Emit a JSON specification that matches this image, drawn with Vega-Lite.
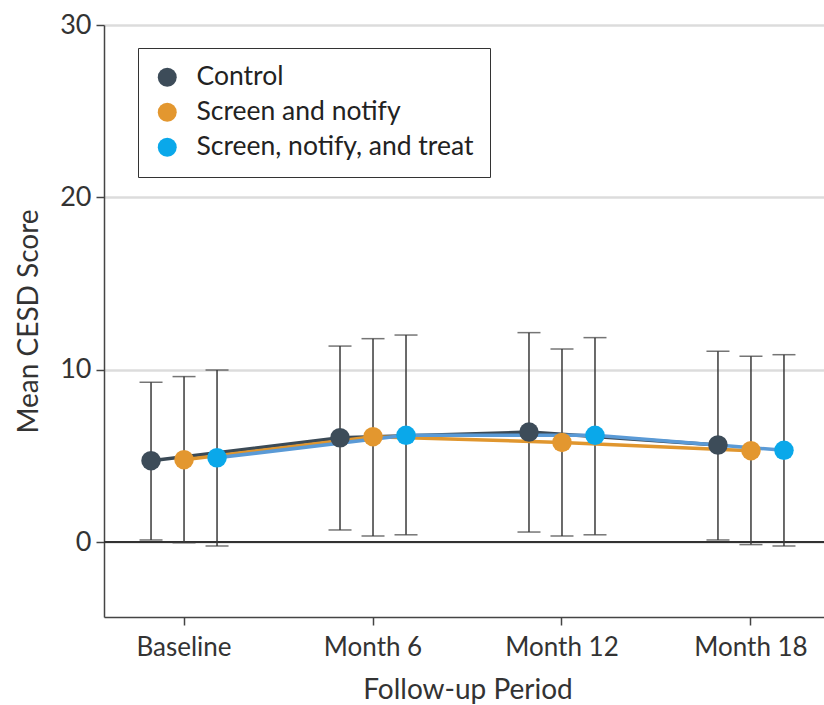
{
  "$schema": "https://vega.github.io/schema/vega-lite/v6.json",
  "width": 727,
  "height": 592,
  "autosize": {"type": "none"},
  "padding": {"left": 104, "top": 25, "right": 0, "bottom": 88},
  "background": "white",
  "config": {
    "font": "Lato",
    "view": {"stroke": null},
    "axis": {
      "labelFont": "Lato", "titleFont": "Lato",
      "labelColor": "#333", "titleColor": "#333",
      "domainColor": "#444", "tickColor": "#444",
      "domainWidth": 1.5, "tickWidth": 1.5, "tickSize": 8,
      "titleFontWeight": "normal"
    }
  },
  "data": {
    "values": [
      {"period": "Baseline", "group": "Control", "mean": 4.72, "low": 0.12, "high": 9.27},
      {"period": "Baseline", "group": "Screen and notify", "mean": 4.78, "low": -0.04, "high": 9.6},
      {"period": "Baseline", "group": "Screen, notify, and treat", "mean": 4.89, "low": -0.23, "high": 9.98},
      {"period": "Month 6", "group": "Control", "mean": 6.05, "low": 0.7, "high": 11.37},
      {"period": "Month 6", "group": "Screen and notify", "mean": 6.11, "low": 0.35, "high": 11.8},
      {"period": "Month 6", "group": "Screen, notify, and treat", "mean": 6.19, "low": 0.42, "high": 12.01},
      {"period": "Month 12", "group": "Control", "mean": 6.38, "low": 0.58, "high": 12.15},
      {"period": "Month 12", "group": "Screen and notify", "mean": 5.78, "low": 0.35, "high": 11.2},
      {"period": "Month 12", "group": "Screen, notify, and treat", "mean": 6.19, "low": 0.42, "high": 11.86},
      {"period": "Month 18", "group": "Control", "mean": 5.63, "low": 0.12, "high": 11.07},
      {"period": "Month 18", "group": "Screen and notify", "mean": 5.3, "low": -0.15, "high": 10.78},
      {"period": "Month 18", "group": "Screen, notify, and treat", "mean": 5.32, "low": -0.23, "high": 10.87}
    ]
  },
  "encoding": {
    "x": {
      "field": "period", "type": "nominal",
      "sort": ["Baseline", "Month 6", "Month 12", "Month 18"],
      "scale": {"paddingInner": 0.153, "paddingOuter": 0},
      "axis": {
        "title": "Follow-up Period", "labelAngle": 0,
        "labelFontSize": 26, "titleFontSize": 28,
        "labelPadding": 9, "titlePadding": 16, "grid": false
      }
    },
    "xOffset": {
      "field": "group", "type": "nominal",
      "sort": ["Control", "Screen and notify", "Screen, notify, and treat"],
      "scale": {"paddingInner": 0, "paddingOuter": 0.925}
    }
  },
  "layer": [
    {
      "mark": {"type": "rule", "color": "#333", "strokeWidth": 1.5},
      "encoding": {"y": {"datum": 0}, "x": null, "xOffset": null}
    },
    {
      "mark": {"type": "rule", "color": "#3a3a3a", "strokeWidth": 1.5},
      "encoding": {
        "y": {
          "field": "low", "type": "quantitative",
          "scale": {"domain": [-4.35, 30], "nice": false, "zero": false},
          "axis": {
            "title": "Mean CESD Score", "values": [0, 10, 20, 30],
            "labelFontSize": 27, "titleFontSize": 28, "labelPadding": 5,
            "titlePadding": 16, "grid": true, "gridColor": "#dcdcdc", "gridWidth": 2.5
          }
        },
        "y2": {"field": "high"}
      }
    },
    {
      "mark": {"type": "tick", "color": "#3a3a3a", "thickness": 1.5, "size": 23, "orient": "horizontal"},
      "encoding": {"y": {"field": "low", "type": "quantitative"}}
    },
    {
      "mark": {"type": "tick", "color": "#3a3a3a", "thickness": 1.5, "size": 23, "orient": "horizontal"},
      "encoding": {"y": {"field": "high", "type": "quantitative"}}
    },
    {
      "mark": {"type": "line", "strokeWidth": 3.5},
      "encoding": {
        "y": {"field": "mean", "type": "quantitative"},
        "detail": {"field": "group"},
        "stroke": {
          "field": "group", "type": "nominal", "legend": null,
          "scale": {"domain": ["Control", "Screen and notify", "Screen, notify, and treat"],
                    "range": ["#3b4a56", "#e0962e", "#5a9ad6"]}
        }
      }
    },
    {
      "mark": {"type": "point", "filled": true, "opacity": 1, "size": 380},
      "encoding": {
        "y": {"field": "mean", "type": "quantitative"},
        "color": {
          "field": "group", "type": "nominal",
          "scale": {"domain": ["Control", "Screen and notify", "Screen, notify, and treat"],
                    "range": ["#3d4c59", "#e3972f", "#0aa8ea"]},
          "legend": {
            "title": null, "orient": "none", "legendX": 34, "legendY": 23,
            "direction": "vertical",
            "strokeColor": "#333", "fillColor": "white",
            "padding": 16, "labelFont": "Lato", "labelFontSize": 26.5, "labelColor": "#222",
            "symbolType": "circle", "symbolSize": 360, "symbolStrokeWidth": 0,
            "rowPadding": 8, "labelOffset": 16, "symbolOffset": 0, "labelLimit": 400
          }
        }
      }
    }
  ],
  "resolve": {"scale": {"stroke": "independent"}}
}
